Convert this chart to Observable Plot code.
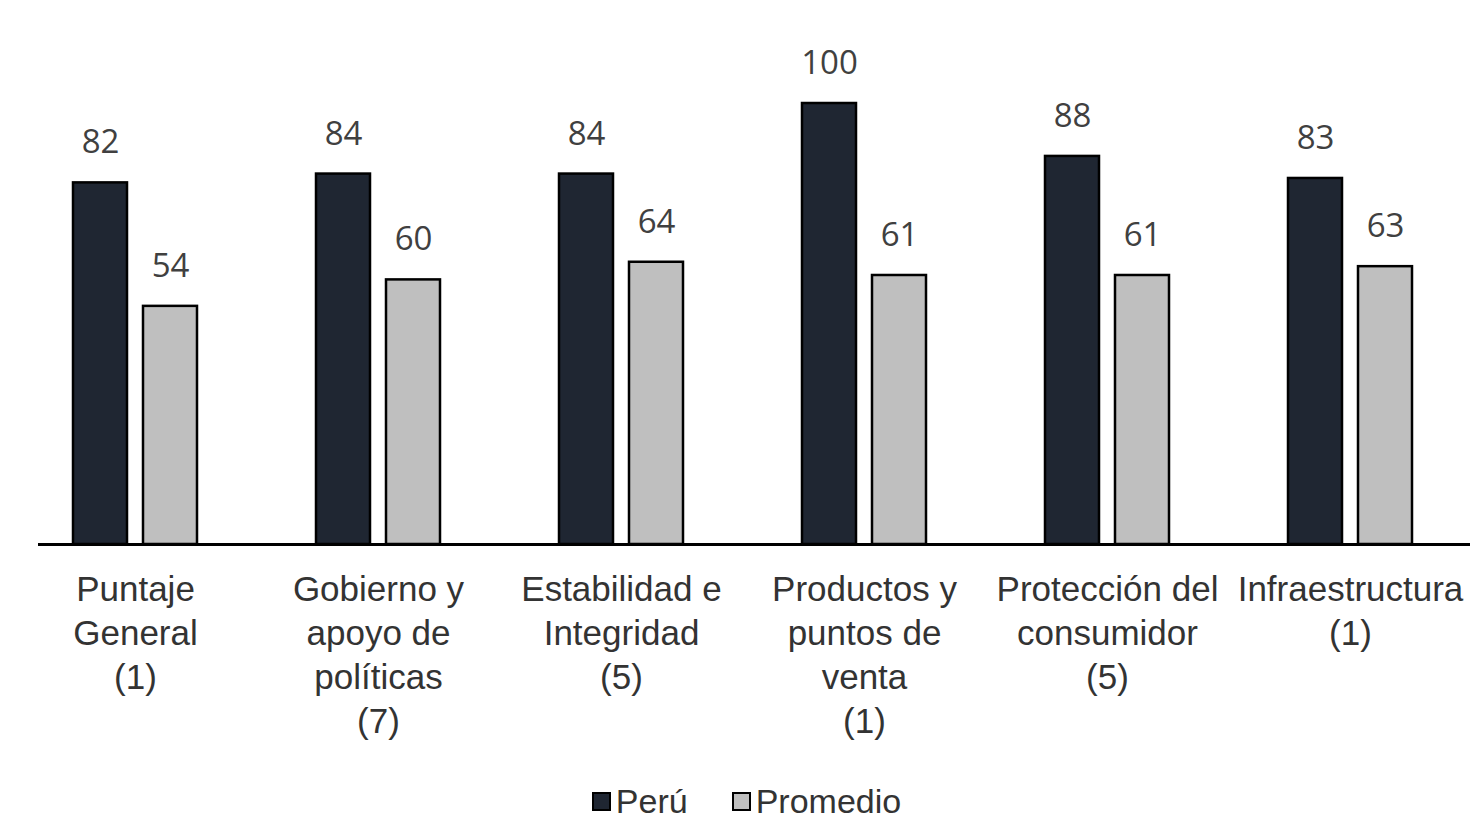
<!DOCTYPE html>
<html>
<head>
<meta charset="utf-8">
<script src="https://cdn.jsdelivr.net/npm/d3@7"></script>
<script src="https://cdn.jsdelivr.net/npm/@observablehq/plot@0.6"></script>
<style>
  html, body { margin: 0; padding: 0; background: #ffffff; }
  #chart svg { display: block; }
  #legend { display: flex; justify-content: center; align-items: center; height: 39px;
            font-family: "Liberation Sans", Arial, sans-serif; font-size: 34px; color: #333;
            padding-left: 20px; box-sizing: border-box; }
  .sw { display: inline-block; width: 15px; height: 15px; border: 2px solid #000; margin-right: 5px; }
  .item { display: flex; align-items: center; }
</style>
</head>
<body>
<div id="chart"></div>
<div id="legend"></div>
<script>
const categories = ["Puntaje General", "Gobierno y apoyo de políticas", "Estabilidad e Integridad", "Productos y puntos de venta", "Protección del consumidor", "Infraestructura"];
const tickLabels = ["Puntaje\nGeneral\n(1)", "Gobierno y\napoyo de\npolíticas\n(7)", "Estabilidad e\nIntegridad\n(5)", "Productos y\npuntos de\nventa\n(1)", "Protección del\nconsumidor\n(5)", "Infraestructura\n(1)"];
const seriesNames = ["Perú", "Promedio"];
const peru = [82, 84, 84, 100, 88, 83];
const promedio = [54, 60, 64, 61, 61, 63];
const seriesColors = ["#1f2632", "#bfbfbf"];

const peruRows = categories.map((c, i) => ({cat: c, series: seriesNames[0], value: peru[i]}));
const promRows = categories.map((c, i) => ({cat: c, series: seriesNames[1], value: promedio[i]}));

const valueLabel = (rows, dx) => Plot.text(rows, {
  x: "cat", y: "value", text: d => String(d.value), dx, dy: -40,
  lineAnchor: "middle", fontSize: 33, fontFamily: "Open Sans, Liberation Sans, sans-serif", fill: "#404040"
});

const chart = Plot.plot({
  width: 1473,
  height: 782,
  marginLeft: 12,
  marginRight: 1,
  marginTop: 103,
  marginBottom: 238,
  x: {domain: categories, paddingInner: 0.778, paddingOuter: 0.389, axis: null},
  y: {domain: [0, 100], axis: null},
  style: {fontFamily: "Liberation Sans, Arial, sans-serif", background: "transparent"},
  marks: [
    Plot.barY(peruRows, {x: "cat", y: "value", dx: -35, fill: seriesColors[0], stroke: "#000", strokeWidth: 2.5}),
    Plot.barY(promRows, {x: "cat", y: "value", dx: 35, fill: seriesColors[1], stroke: "#000", strokeWidth: 2.5}),
    Plot.ruleY([0], {stroke: "#000", strokeWidth: 3, insetLeft: 26, insetRight: 2}),
    valueLabel(peruRows, -35),
    valueLabel(promRows, 35),
    Plot.text(categories, {
      x: d => d, text: (d, i) => tickLabels[i], frameAnchor: "bottom", lineAnchor: "top",
      dy: 25, fontSize: 35, lineHeight: 1.257, fill: "#333"
    })
  ]
});
document.getElementById("chart").appendChild(chart);

const legend = document.getElementById("legend");
seriesNames.forEach((name, i) => {
  const item = document.createElement("div");
  item.className = "item";
  if (i > 0) item.style.marginLeft = "44px";
  const sw = document.createElement("span");
  sw.className = "sw";
  sw.style.background = seriesColors[i];
  const label = document.createElement("span");
  label.textContent = name;
  item.appendChild(sw);
  item.appendChild(label);
  legend.appendChild(item);
});
</script>
</body>
</html>
